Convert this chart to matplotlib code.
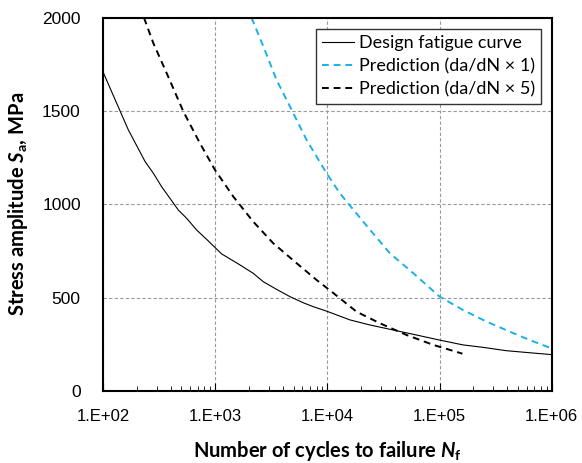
import numpy as np
import matplotlib
matplotlib.use('Agg')
import matplotlib.pyplot as plt
from matplotlib.ticker import FuncFormatter, LogLocator

# Design fatigue curve
design_n = [100, 168, 237, 281, 333, 469, 556, 683, 838, 1140, 1660, 2180, 2680,
            3520, 4630, 6090, 7480, 9840, 15900, 23900, 38600, 62400, 100000,
            162000, 244000, 394000, 637000, 1000000]
design_s = [1710, 1400, 1230, 1167, 1095, 970, 926, 863, 813, 735, 676, 631, 586,
            545, 506, 473, 452, 428, 381, 354, 327, 300, 273,
            247, 234, 216, 205, 195]

# Prediction (da/dN x 1)
pred1_n = [2110, 2680, 3520, 4800, 6520, 9840, 12900, 21700, 36100, 58400, 100000,
           162000, 262000, 423000, 637000, 1000000]
pred1_s = [2000, 1848, 1668, 1507, 1346, 1167, 1060, 895, 738, 631, 506,
           434, 372, 318, 273, 228]

# Prediction (da/dN x 5)
pred5_n = [232, 281, 369, 520, 731, 995, 1450, 2180, 3290, 5320, 8020, 11300,
           18200, 29400, 50900, 88000, 160000]
pred5_s = [2000, 1864, 1704, 1498, 1328, 1185, 1042, 908, 792, 685, 595, 525,
           425, 363, 300, 247, 200]

plt.rcParams['mathtext.fontset'] = 'custom'
plt.rcParams['mathtext.it'] = 'Lato:bold:italic'
plt.rcParams['mathtext.rm'] = 'Lato:bold'

fig = plt.figure(figsize=(5.82, 4.63), dpi=100)
ax = fig.add_axes([0.177, 0.1555, 0.771, 0.806])

ax.plot(design_n, design_s, color='black', linewidth=0.8, label='Design fatigue curve')
ax.plot(pred1_n, pred1_s, color='#1ab0e8', linewidth=1.4, linestyle=(0, (3.5, 2.5)),
        label='Prediction (da/dN \u00d7 1)')
ax.plot(pred5_n, pred5_s, color='black', linewidth=1.4, linestyle=(0, (3.5, 2.5)),
        label='Prediction (da/dN \u00d7 5)')

ax.set_xscale('log')
ax.set_xlim(1e2, 1e6)
ax.set_ylim(0, 2000)
ax.set_yticks([0, 500, 1000, 1500, 2000])
ax.xaxis.set_major_locator(LogLocator(base=10, numticks=10))
ax.xaxis.set_minor_locator(LogLocator(base=10, subs=np.arange(2, 10), numticks=10))
ax.xaxis.set_major_formatter(FuncFormatter(lambda v, p: '1.E+%02d' % round(np.log10(v))))

ax.grid(True, which='major', color='#999999', linestyle=(0, (3, 2)), linewidth=0.8)
ax.tick_params(axis='x', which='both', direction='in', top=False, pad=13,
               labelsize=12)
ax.tick_params(axis='x', which='major', length=6)
ax.tick_params(axis='x', which='minor', length=3.5)
ax.tick_params(axis='y', direction='in', length=0, pad=16, labelsize=12.5)
for lab in ax.get_xticklabels() + ax.get_yticklabels():
    lab.set_fontfamily('Liberation Sans')
for sp in ax.spines.values():
    sp.set_linewidth(1.5)

ax.set_xlabel(r'Number of cycles to failure $N_\mathrm{f}$', fontfamily='Lato',
              fontweight='bold', fontsize=14.5, labelpad=11)
ax.set_ylabel(r'Stress amplitude $S_\mathrm{a}$, MPa', fontfamily='Lato',
              fontweight='bold', fontsize=14.5, labelpad=9)

leg = ax.legend(loc='upper right', bbox_to_anchor=(0.985, 0.98), fancybox=False,
                edgecolor='#333333', framealpha=1, handlelength=1.8,
                handletextpad=0.25, borderpad=0.35, labelspacing=0.38,
                borderaxespad=0.2, prop={'family': 'Lato', 'size': 13})
leg.get_frame().set_linewidth(1.0)

plt.savefig('out.png', dpi=100)
